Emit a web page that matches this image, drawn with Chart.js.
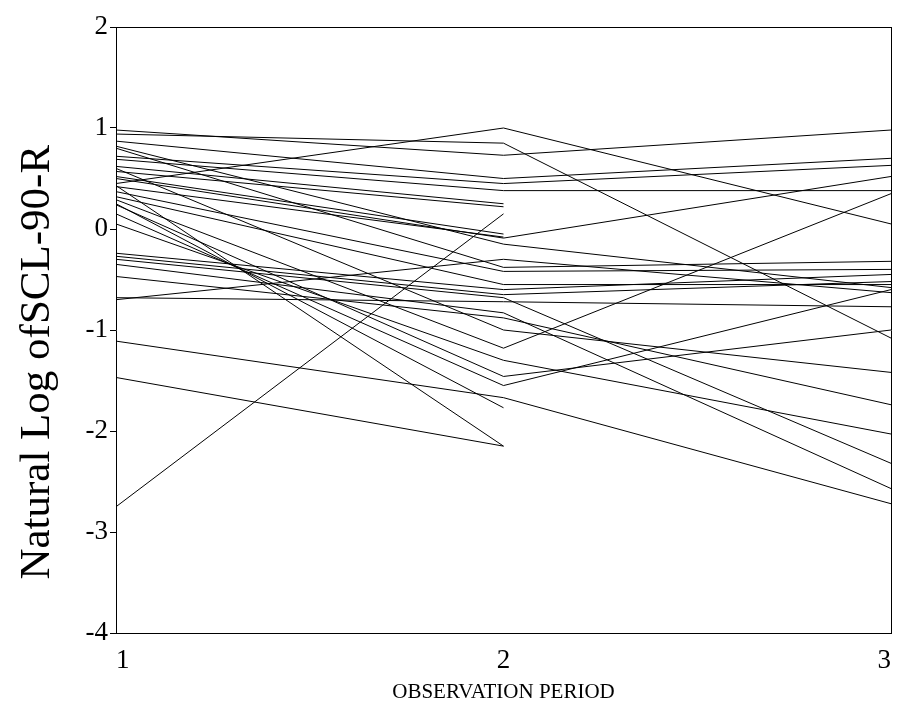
<!DOCTYPE html>
<html>
<head>
<meta charset="utf-8">
<script src="https://cdn.jsdelivr.net/npm/chart.js@4.4.0/dist/chart.umd.min.js"></script>
<style>
    html, body { margin: 0; padding: 0; background: #fff; }
    #wrap { width: 903px; height: 722px; }
</style>
</head>
<body>
<div id="wrap"><canvas id="scl"></canvas></div>
<script>
// observation periods (x axis)
const periods = [1, 2, 3];
const yTicks = [2, 1, 0, -1, -2, -3, -4];

// one row per subject: ln(SCL-90-R) at periods 1, 2, 3 (null = not observed)
const subjects = [
    [0.94, 0.85, -1.08],
    [0.45, 1.00, 0.05],
    [0.98, 0.73, 0.98],
    [0.87, 0.50, 0.70],
    [0.72, 0.45, 0.63],
    [0.69, 0.38, 0.38],
    [0.62, 0.25, null],
    [0.57, 0.22, null],
    [-2.75, 0.15, null],
    [0.52, -0.05, null],
    [0.50, -0.09, 0.52],
    [0.42, -0.08, null],
    [0.82, -0.15, -0.58],
    [0.37, -0.42, -0.40],
    [0.32, -0.55, -0.55],
    [-0.24, -0.60, -0.45],
    [-0.27, -0.65, -0.52],
    [-0.30, -0.68, -2.32],
    [-0.35, -0.83, -2.57],
    [-0.47, -0.88, -1.74],
    [-0.68, -0.72, -0.77],
    [-0.70, -0.30, -0.63],
    [0.29, -1.18, 0.35],
    [0.24, -1.46, -1.00],
    [0.15, -1.55, -0.60],
    [0.05, -1.30, -2.03],
    [-1.11, -1.67, -2.72],
    [-1.47, -2.15, null],
    [0.43, -2.15, null],
    [0.25, -1.77, null],
    [0.60, -1.00, -1.42],
    [0.80, -0.38, -0.32]
];

const serif = '"Liberation Serif", "DejaVu Serif", serif';

const datasets = subjects.map(vals => ({
    data: periods.map((p, i) => ({ x: p, y: vals[i] })).filter(pt => pt.y !== null),
    borderColor: '#000',
    borderWidth: 1,
    pointRadius: 0,
    fill: false,
    tension: 0
}));

new Chart(document.getElementById('scl'), {
    type: 'line',
    data: { datasets },
    options: {
        responsive: true,
        maintainAspectRatio: false,
        animation: false,
        layout: { padding: { top: 27, right: 10, left: 0, bottom: 0 } },
        plugins: { legend: { display: false }, tooltip: { enabled: false } },
        scales: {
            x: {
                type: 'linear',
                min: 1, max: 3,
                afterBuildTicks: axis => { axis.ticks = periods.map(v => ({ value: v })); },
                afterFit: axis => { axis.height = 89; },
                grid: { display: false, drawTicks: false },
                border: { display: true, color: '#000', width: 1 },
                ticks: { color: '#000', padding: 12, align: 'inner', font: { family: serif, size: 27 } },
                title: {
                    display: true,
                    text: 'OBSERVATION PERIOD',
                    color: '#000',
                    font: { family: serif, size: 21 },
                    padding: { top: 0, bottom: 17 }
                }
            },
            y: {
                min: -4, max: 2,
                afterBuildTicks: axis => { axis.ticks = yTicks.map(v => ({ value: v })); },
                afterFit: axis => { axis.width = 116; },
                grid: { display: true, drawOnChartArea: false, drawTicks: true, tickLength: 6, color: '#000' },
                border: { display: true, color: '#000', width: 1 },
                ticks: { color: '#000', padding: 2, font: { family: serif, size: 27 } },
                title: {
                    display: true,
                    // trailing spaces nudge the rotated title down the axis, as in the original
                    text: 'Natural Log ofSCL-90-R      ',
                    color: '#000',
                    font: { family: serif, size: 43 },
                    padding: { top: 12, bottom: 0 }
                }
            },
            xTop: {
                type: 'linear', position: 'top', min: 1, max: 3,
                afterFit: axis => { axis.height = 0; },
                grid: { display: false, drawTicks: false },
                border: { display: true, color: '#000', width: 1 },
                ticks: { display: false }
            },
            yRight: {
                type: 'linear', position: 'right', min: -4, max: 2,
                afterFit: axis => { axis.width = 0; },
                grid: { display: false, drawTicks: false },
                border: { display: true, color: '#000', width: 1 },
                ticks: { display: false }
            }
        }
    }
});
</script>
</body>
</html>
